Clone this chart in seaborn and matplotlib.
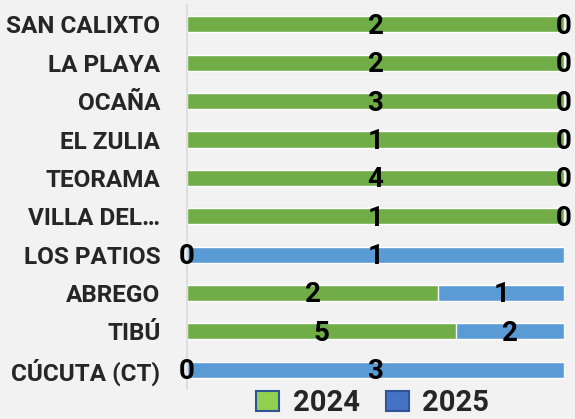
import numpy as np
import pandas as pd
import matplotlib
matplotlib.use("Agg")
import matplotlib.pyplot as plt
import seaborn as sns
from matplotlib.patches import Patch

# datos
municipios = ["SAN CALIXTO", "LA PLAYA", "OCAÑA", "EL ZULIA", "TEORAMA",
              "VILLA DEL…", "LOS PATIOS", "ABREGO", "TIBÚ", "CÚCUTA (CT)"]
casos_2024 = [2, 2, 3, 1, 4, 1, 0, 2, 5, 0]
casos_2025 = [0, 0, 0, 0, 0, 0, 1, 1, 2, 3]

verde = "#70AD47"
azul = "#5B9BD5"
fondo = "#F2F2F2"

sns.set_theme(style="white")
plt.rcParams["font.family"] = ["Roboto", "DejaVu Sans"]

df = pd.DataFrame({"municipio": municipios, "2024": casos_2024, "2025": casos_2025})
df["total"] = df["2024"] + df["2025"]
df["p2024"] = df["2024"] / df["total"]
df["p2025"] = df["2025"] / df["total"]
df["ptotal"] = df["p2024"] + df["p2025"]

fig = plt.figure(figsize=(5.75, 4.19), dpi=100, facecolor=fondo)
ax = fig.add_axes([0.325, 0.0716, 0.656, 0.916])
ax.set_facecolor(fondo)

sns.barplot(data=df, y="municipio", x="ptotal", color=azul, orient="h",
            width=0.42, saturation=1, ax=ax)
sns.barplot(data=df, y="municipio", x="p2024", color=verde, orient="h",
            width=0.42, saturation=1, ax=ax)

for i, row in df.iterrows():
    ax.text(row["p2024"] / 2, i + 0.05, str(row["2024"]), ha="center", va="center",
            fontsize=20, fontweight="bold", color="black")
    ax.text(row["p2024"] + row["p2025"] / 2, i + 0.05, str(row["2025"]), ha="center",
            va="center", fontsize=20, fontweight="bold", color="black")

ax.set_xlim(0, 1)
ax.set_ylim(9.5, -0.5)
ax.set_xlabel("")
ax.set_ylabel("")
ax.set_xticks([])
ax.tick_params(axis="y", length=0, pad=19, labelsize=17.5)
for lbl in ax.get_yticklabels():
    lbl.set_fontweight("bold")
for s in ["top", "right", "bottom"]:
    ax.spines[s].set_visible(False)
ax.spines["left"].set_color("#D9D9D9")
ax.spines["left"].set_linewidth(1.2)

handles = [Patch(facecolor="#92D050", edgecolor="#2F5597", linewidth=1.5, label="2024"),
           Patch(facecolor="#4472C4", edgecolor="#2F5597", linewidth=1.5, label="2025")]
fig.legend(handles=handles, loc="lower center", bbox_to_anchor=(0.648, -0.058), ncol=2,
           frameon=False, prop={"size": 21, "weight": "bold"},
           handlelength=0.8, handleheight=0.65, columnspacing=0.9, handletextpad=0.45)

fig.savefig("out.png", dpi=100, facecolor=fondo)
